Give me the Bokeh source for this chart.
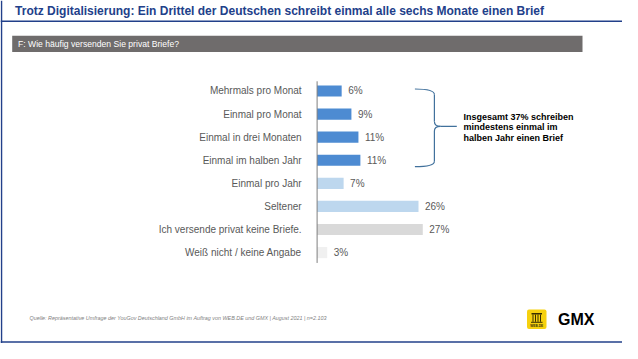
from bokeh.plotting import figure
from bokeh.models import Range1d, ColumnDataSource
from bokeh.core.properties import value
from bokeh.embed import file_html
from bokeh.resources import INLINE

# ---------------- data ----------------
title_text = "Trotz Digitalisierung: Ein Drittel der Deutschen schreibt einmal alle sechs Monate einen Brief"
question_text = "F: Wie häufig versenden Sie privat Briefe?"
categories = [
    "Mehrmals pro Monat",
    "Einmal pro Monat",
    "Einmal in drei Monaten",
    "Einmal im halben Jahr",
    "Einmal pro Jahr",
    "Seltener",
    "Ich versende privat keine Briefe.",
    "Weiß nicht / keine Angabe",
]
shares = [6.3, 8.8, 10.6, 11.1, 6.8, 26.0, 27.1, 2.6]
groups = ["regular", "regular", "regular", "regular", "rarely", "rarely", "never", "unknown"]
summary_total = round(sum(shares[:4]))
annotation_lines = [
    f"Insgesamt {summary_total}% schreiben",
    "mindestens einmal im",
    "halben Jahr einen Brief",
]
source_text = ("Quelle: Repräsentative Umfrage der YouGov Deutschland GmbH im Auftrag von "
               "WEB.DE und GMX |  August 2021  |  n=2.103")
brand_text = "GMX"
webde_text = "WEB.DE"

# ---------------- style ----------------
FONT = value("Liberation Sans")
NAVY = "#22408A"
LABEL_GREY = "#595959"
group_colors = {"regular": "#4D8BD2", "rarely": "#BDD7EE", "never": "#D9D9D9", "unknown": "#F0F0F0"}

W, H = 622, 343
AXIS_X = 316.6          # canvas px of 0 %
PX_PER_PCT = 3.9

p = figure(
    width=W, height=H,
    x_range=Range1d(-AXIS_X / PX_PER_PCT, (W - AXIS_X) / PX_PER_PCT),
    y_range=Range1d(10.94, -3.92),
    min_border=0, min_border_left=0, min_border_right=0, min_border_top=0, min_border_bottom=0,
    x_axis_location=None, y_axis_location=None,
    toolbar_location=None, output_backend="svg",
    background_fill_color="white", border_fill_color="white",
)
p.outline_line_color = None
p.grid.visible = False
p.extra_x_ranges = {"px_x": Range1d(0, W)}
p.extra_y_ranges = {"px_y": Range1d(H, 0)}
PX = dict(x_range_name="px_x", y_range_name="px_y")

rows = list(range(len(categories)))
src = ColumnDataSource(dict(
    y=rows,
    share=shares,
    cat=categories,
    label=[f"{round(v)}%" for v in shares],
    color=[group_colors[g] for g in groups],
))

# ---------------- slide frame ----------------
p.segment(x0=[0], y0=[20.7], x1=[W], y1=[20.7], line_color=NAVY, line_width=1.5, **PX)
p.segment(x0=[1], y0=[0], x1=[1], y1=[H], line_color=NAVY, line_width=1.5, **PX)
p.segment(x0=[0], y0=[341.5], x1=[W], y1=[341.5], line_color=NAVY, line_width=1.5, **PX)

p.text(x=[14.6], y=[10.8], text=[title_text], text_font=FONT, text_font_size="12px",
       text_font_style="bold", text_color=NAVY, text_baseline="middle", **PX)

p.quad(left=[11.7], right=[582], top=[35.3], bottom=[51.6], fill_color="#6F6C6C",
       line_color=None, **PX)
p.text(x=[17.5], y=[43.6], text=[question_text], text_font=FONT, text_font_size="8.6px",
       text_color="white", text_baseline="middle", **PX)

# ---------------- bars ----------------
p.hbar(y="y", left=0, right="share", height=0.485, fill_color="color", line_color=None, source=src)
p.segment(x0=[0], y0=[-0.42], x1=[0], y1=[7.45], line_color="#7F7F7F", line_width=1)

p.text(x=0, y="y", text="cat", x_offset=-15.5, text_align="right", text_baseline="middle",
       text_font=FONT, text_font_size="10px", text_color=LABEL_GREY, source=src)
p.text(x="share", y="y", text="label", x_offset=6.5, text_align="left", text_baseline="middle",
       text_font=FONT, text_font_size="10px", text_color=LABEL_GREY, source=src)

# ---------------- brace + annotation ----------------
BRACE = "#41719C"
bx, tip_x, end_x = 433.9, 456.3, 414.4
top_y, mid_y, bot_y = 88.5, 125.8, 166.2
p.quadratic(x0=[end_x, bx, bx, bx], y0=[top_y, mid_y - 4.8, mid_y + 4.8, bot_y - 5.5],
            x1=[bx, bx + 6, bx + 6, end_x], y1=[top_y + 5.5, mid_y, mid_y, bot_y],
            cx=[bx, bx, bx, bx], cy=[top_y, mid_y, mid_y, bot_y],
            line_color=BRACE, line_width=1.2, **PX)
p.segment(x0=[bx, bx, bx + 6], y0=[top_y + 5.5, mid_y + 4.8, mid_y],
          x1=[bx, bx, tip_x], y1=[mid_y - 4.8, bot_y - 5.5, mid_y],
          line_color=BRACE, line_width=1.2, **PX)

p.text(x=[463, 463, 463], y=[116.2, 126.9, 137.6], text=annotation_lines,
       text_font=FONT, text_font_size="9px", text_font_style="bold", text_color="black",
       text_baseline="middle", **PX)

# ---------------- footer ----------------
p.text(x=[29], y=[317.5], text=[source_text], text_font=FONT, text_font_size="5.4px",
       text_font_style="italic", text_color="#7F7F7F", text_baseline="middle", **PX)

# WEB.DE logo
p.quad(left=[526.5], right=[546], top=[309], bottom=[328.5], fill_color="#F6D10F",
       line_color=None, border_radius=2, **PX)
p.quad(left=[531, 530.5], right=[541.5, 542], top=[312.5, 321.3], bottom=[314, 322.3],
       fill_color="#3A3000", line_color=None, **PX)
p.segment(x0=[532.5, 535, 537.5, 540], y0=[314, 314, 314, 314],
          x1=[532.5, 535, 537.5, 540], y1=[321.3, 321.3, 321.3, 321.3],
          line_color="#3A3000", line_width=1, **PX)
p.text(x=[536.2], y=[325.3], text=[webde_text], text_font=FONT, text_font_size="3.2px",
       text_font_style="bold", text_color="#3A3000", text_align="center", text_baseline="middle", **PX)

p.text(x=[557.5], y=[318.5], text=[brand_text], text_font=FONT, text_font_size="16px",
       text_font_style="bold", text_color="black", text_baseline="middle", **PX)

open("out.html", "w").write(file_html(p, INLINE))
